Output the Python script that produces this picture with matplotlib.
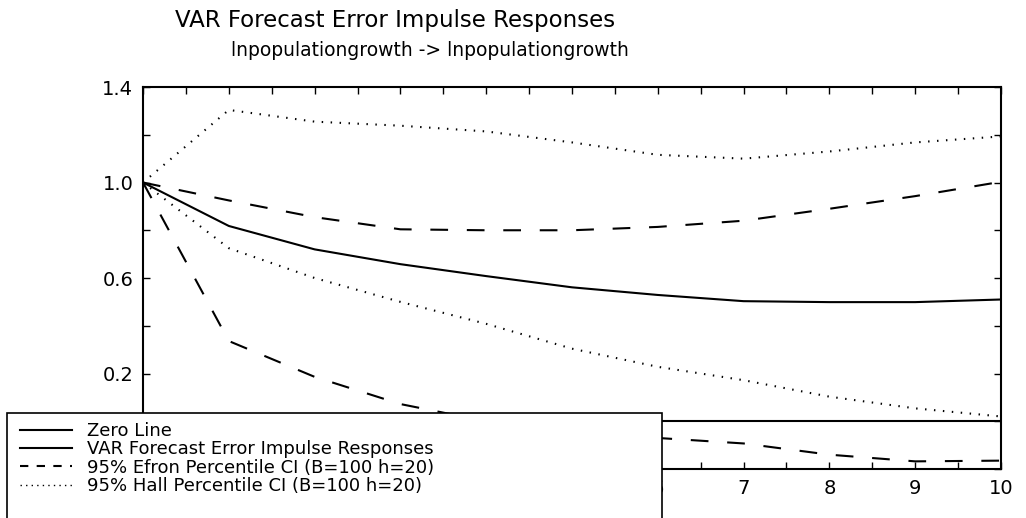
import matplotlib
matplotlib.use("Agg")
import matplotlib.pyplot as plt
from matplotlib.patches import Rectangle
from matplotlib.lines import Line2D
from matplotlib.ticker import MultipleLocator

# impulse response horizon and values
horizon = [0, 1, 2, 3, 4, 5, 6, 7, 8, 9, 10]
zero_line = [0, 0, 0, 0, 0, 0, 0, 0, 0, 0, 0]
irf = [1.0, 0.818, 0.72, 0.658, 0.608, 0.561, 0.529, 0.503, 0.499, 0.499, 0.51]
efron_lo = [1.0, 0.336, 0.186, 0.072, 0.0, -0.045, -0.07, -0.093, -0.14, -0.168, -0.165]
efron_hi = [1.0, 0.925, 0.855, 0.804, 0.80, 0.80, 0.814, 0.84, 0.89, 0.943, 1.003]
hall_lo = [1.0, 0.725, 0.60, 0.50, 0.408, 0.304, 0.228, 0.172, 0.103, 0.054, 0.02]
hall_hi = [1.0, 1.304, 1.255, 1.238, 1.214, 1.168, 1.116, 1.10, 1.13, 1.168, 1.193]

# only these tick labels are left visible beside the legend box
xlabels_shown = ['6', '7', '8', '9', '10']
ylabels_shown = ['0.2', '0.6', '1.0', '1.4']

labels = ["Zero Line",
          "VAR Forecast Error Impulse Responses",
          "95% Efron Percentile CI (B=100 h=20)",
          "95% Hall Percentile CI (B=100 h=20)"]

plt.rcParams['font.family'] = ['DejaVu Sans']

dash = (0, (8.5, 9.0))
dot = (0, (0.7, 3.6))

fig = plt.figure(figsize=(10.26, 5.18), dpi=100)
ax = fig.add_axes([0.1394, 0.0946, 0.8362, 0.7374])

ax.plot(horizon, zero_line, color='k', lw=1.5)
ax.plot(horizon, irf, color='k', lw=1.5)
ax.plot(horizon, efron_lo, color='k', lw=1.5, linestyle=dash)
ax.plot(horizon, efron_hi, color='k', lw=1.5, linestyle=dash)
ax.plot(horizon, hall_lo, color='k', lw=1.5, linestyle=dot)
ax.plot(horizon, hall_hi, color='k', lw=1.5, linestyle=dot)

ax.set_xlim(0, 10)
ax.set_ylim(-0.2, 1.4)
ax.xaxis.set_minor_locator(MultipleLocator(0.5))
ax.yaxis.set_minor_locator(MultipleLocator(0.2))
ax.set_xticks([float(v) for v in xlabels_shown])
ax.set_xticklabels(xlabels_shown)
ax.set_yticks([float(v) for v in ylabels_shown])
ax.set_yticklabels(ylabels_shown)
ax.tick_params(which='both', direction='in', top=True, right=True,
               length=5, width=1, labelsize=14, pad=7)
for s in ax.spines.values():
    s.set_linewidth(1.5)

fig.text(395/1026, 1 - 20/518, "VAR Forecast Error Impulse Responses",
         ha='center', va='center', fontsize=16.5)
fig.text(430/1026, 1 - 50/518, "lnpopulationgrowth -> lnpopulationgrowth",
         ha='center', va='center', fontsize=13.5)

# legend box runs off the bottom of the figure
box = Rectangle((7/1026, -0.05), 655/1026, 1 - 413/518 + 0.05,
                transform=fig.transFigure, facecolor='white',
                edgecolor='k', lw=1.2, zorder=3)
fig.patches.append(box)

handles = [Line2D([], [], color='k', lw=1.5),
           Line2D([], [], color='k', lw=1.5),
           Line2D([], [], color='k', lw=1.5, linestyle=(0, (4, 4))),
           Line2D([], [], color='k', lw=1.0, linestyle=(0, (1, 3)))]
fig.legend(handles, labels, loc='upper left',
           bbox_to_anchor=(20/1026, 1 - 422/518), frameon=False,
           fontsize=13, borderpad=0, borderaxespad=0, labelspacing=0.02,
           handlelength=2.9, handletextpad=0.8)

fig.savefig("out.png", dpi=100)
